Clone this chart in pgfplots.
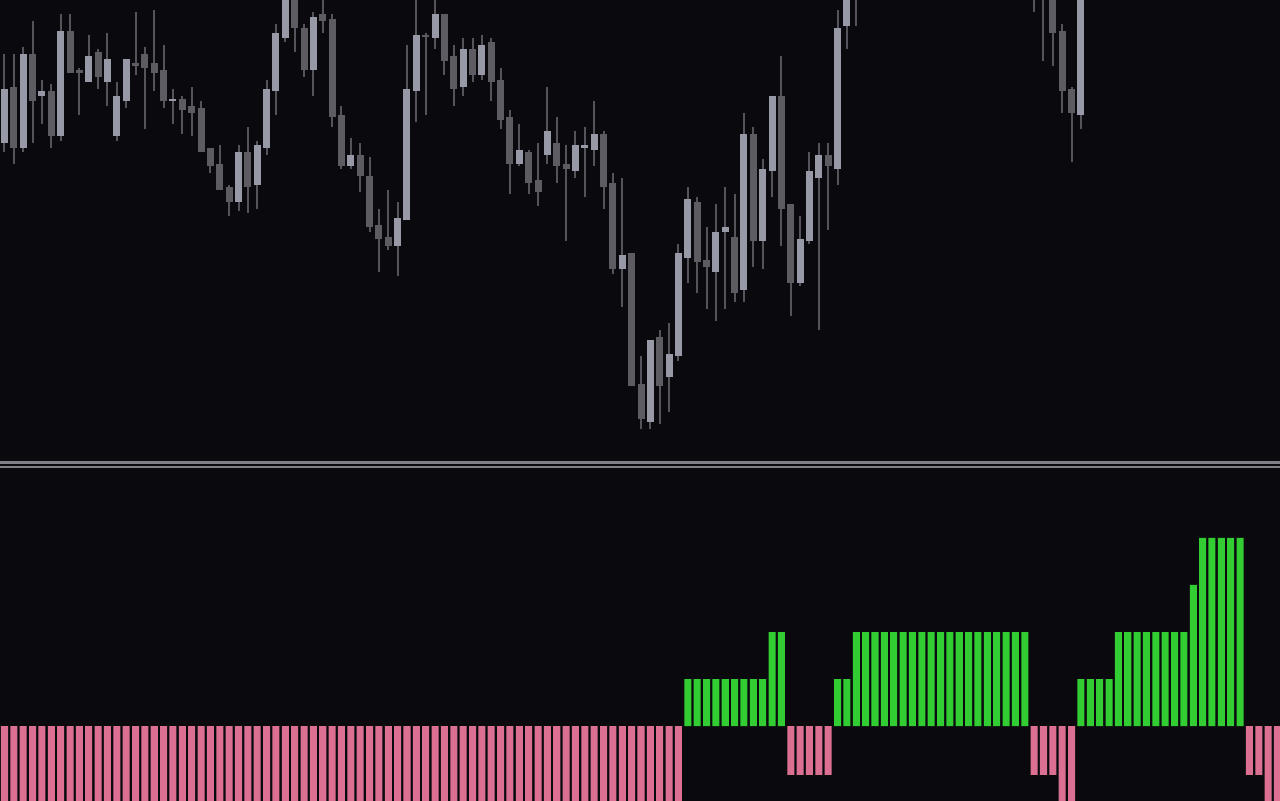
\documentclass[border=0pt]{standalone}
\usepackage{pgfplots}
\usepackage{pgfplotstable}
\pgfplotsset{compat=1.18}
\definecolor{bgc}{RGB}{10,10,14}
\definecolor{bullc}{RGB}{152,153,166}
\definecolor{bearc}{RGB}{92,92,98}
\definecolor{wickc}{RGB}{84,84,90}
\definecolor{sepc}{RGB}{128,128,136}
\definecolor{upc}{RGB}{50,205,50}
\definecolor{dnc}{RGB}{219,112,147}

% candle data in screen units (smaller = higher price): wick top, body top, body bottom, wick bottom
\pgfplotstableread{
i wt bt bb wb
0 54 89 143 152
2 47 54 148 152
4 80 91 96 124
6 14 31 136 141
9 35 56 82 82
11 33 59 82 106
12 82 96 136 141
13 59 59 101 108
18 89 99 101 124
25 145 152 202 211
27 141 145 185 209
28 80 89 148 155
29 24 33 91 115
30 -20 -10 38 42
33 12 17 70 96
37 138 155 166 169
42 202 218 246 276
43 45 89 220 220
44 -3 35 91 122
46 -5 14 38 49
49 38 49 87 96
51 35 45 75 80
55 124 150 164 166
58 87 131 155 164
61 131 145 171 178
62 127 145 148 197
63 101 134 150 166
66 178 255 269 307
69 340 340 422 429
71 323 354 377 412
72 244 253 356 361
73 187 199 258 283
76 204 232 272 321
77 187 227 232 309
79 113 134 290 302
81 159 169 241 269
82 96 96 171 197
85 216 239 283 286
86 152 171 241 244
87 143 155 178 330
89 10 28 169 185
90 -15 -5 26 49
115 -40 -20 115 129
}\bull

\pgfplotstableread{
i wt bt bb wb
1 54 87 148 164
3 21 54 101 143
5 84 91 136 148
7 14 31 73 73
8 68 70 73 115
10 49 52 77 89
14 12 63 66 75
15 47 54 68 129
16 10 63 73 91
17 45 70 101 108
19 96 99 110 134
20 87 106 113 136
21 101 108 152 152
22 148 148 166 173
23 145 164 190 190
24 185 187 202 216
26 127 152 187 213
31 -15 -5 28 52
32 24 28 70 77
34 -5 14 21 33
35 14 19 117 127
36 106 115 166 169
38 143 155 176 192
39 157 176 227 232
40 209 225 239 272
41 190 237 246 250
45 33 35 37 115
47 14 14 61 75
48 45 56 89 106
50 38 49 75 82
52 38 42 82 101
53 68 80 120 129
54 110 117 164 194
56 150 152 183 194
57 143 180 192 206
59 117 143 166 183
60 145 164 169 241
64 131 134 187 209
65 173 183 269 274
67 253 253 386 386
68 356 384 419 429
70 330 337 386 424
74 197 202 262 293
75 227 260 267 309
78 194 237 293 302
80 127 134 241 267
83 56 96 209 246
84 204 204 283 316
88 143 155 166 230
91 -30 -20 -5 26
110 -40 -20 -5 12
111 -60 -40 -10 61
112 -30 -10 33 66
113 24 31 91 113
114 87 89 113 162
}\bear

\begin{document}
\begin{tikzpicture}
\useasboundingbox (0,0) rectangle (128mm,80mm);
\fill[bgc] (-2mm,-2mm) rectangle (130mm,82mm);
\begin{axis}[at={(0,80mm)}, anchor=north west, scale only axis,
  width=128mm, height=46.1mm, xmin=-0.48, xmax=136.27, ymin=0, ymax=461,
  y dir=reverse, hide axis, clip=true]
\addplot[draw=none, mark=none, forget plot, error bars/.cd, y dir=plus, y explicit, error mark=none,
  error bar style={draw=wickc, solid, line width=0.2mm}]
  table[x=i, y=wt, y error plus expr=\thisrow{wb}-\thisrow{wt}] {\bull};
\addplot[draw=none, mark=none, forget plot, error bars/.cd, y dir=plus, y explicit, error mark=none,
  error bar style={draw=wickc, solid, line width=0.2mm}]
  table[x=i, y=wt, y error plus expr=\thisrow{wb}-\thisrow{wt}] {\bear};
\addplot[draw=none, mark=none, forget plot, error bars/.cd, y dir=plus, y explicit, error mark=none,
  error bar style={draw=bullc, solid, line width=0.7mm}]
  table[x=i, y=bt, y error plus expr=\thisrow{bb}-\thisrow{bt}] {\bull};
\addplot[draw=none, mark=none, forget plot, error bars/.cd, y dir=plus, y explicit, error mark=none,
  error bar style={draw=bearc, solid, line width=0.7mm}]
  table[x=i, y=bt, y error plus expr=\thisrow{bb}-\thisrow{bt}] {\bear};
\end{axis}

\begin{axis}[at={(0,0)}, anchor=south west, scale only axis,
  width=128mm, height=33.2mm, xmin=-0.48, xmax=136.27, ymin=-1.574, ymax=5.489,
  hide axis, clip=true]
\addplot[ybar, bar width=0.75, bar shift=0pt, fill=dnc, draw=none] coordinates {
(0,-2)(1,-2)(2,-2)(3,-2)(4,-2)(5,-2)(6,-2)(7,-2)(8,-2)(9,-2)
(10,-2)(11,-2)(12,-2)(13,-2)(14,-2)(15,-2)(16,-2)(17,-2)(18,-2)(19,-2)
(20,-2)(21,-2)(22,-2)(23,-2)(24,-2)(25,-2)(26,-2)(27,-2)(28,-2)(29,-2)
(30,-2)(31,-2)(32,-2)(33,-2)(34,-2)(35,-2)(36,-2)(37,-2)(38,-2)(39,-2)
(40,-2)(41,-2)(42,-2)(43,-2)(44,-2)(45,-2)(46,-2)(47,-2)(48,-2)(49,-2)
(50,-2)(51,-2)(52,-2)(53,-2)(54,-2)(55,-2)(56,-2)(57,-2)(58,-2)(59,-2)
(60,-2)(61,-2)(62,-2)(63,-2)(64,-2)(65,-2)(66,-2)(67,-2)(68,-2)(69,-2)
(70,-2)(71,-2)(72,-2)
(84,-1.04)(85,-1.04)(86,-1.04)(87,-1.04)(88,-1.04)
(110,-1.04)(111,-1.04)(112,-1.04)(113,-2)(114,-2)
(133,-1.04)(134,-1.04)(135,-2)(136,-2)
};
\addplot[ybar, bar width=0.75, bar shift=0pt, fill=upc, draw=none] coordinates {
(73,1)(74,1)(75,1)(76,1)(77,1)(78,1)(79,1)(80,1)(81,1)
(82,2)(83,2)
(89,1)(90,1)
(91,2)(92,2)(93,2)(94,2)(95,2)(96,2)(97,2)(98,2)(99,2)(100,2)
(101,2)(102,2)(103,2)(104,2)(105,2)(106,2)(107,2)(108,2)(109,2)
(115,1)(116,1)(117,1)(118,1)
(119,2)(120,2)(121,2)(122,2)(123,2)(124,2)(125,2)(126,2)
(127,3)
(128,4)(129,4)(130,4)(131,4)(132,4)
};
\end{axis}
\draw[sepc, line width=0.3mm] (0,33.75mm) -- (128mm,33.75mm);
\draw[sepc, line width=0.2mm] (0,33.3mm) -- (128mm,33.3mm);
\end{tikzpicture}
\end{document}
